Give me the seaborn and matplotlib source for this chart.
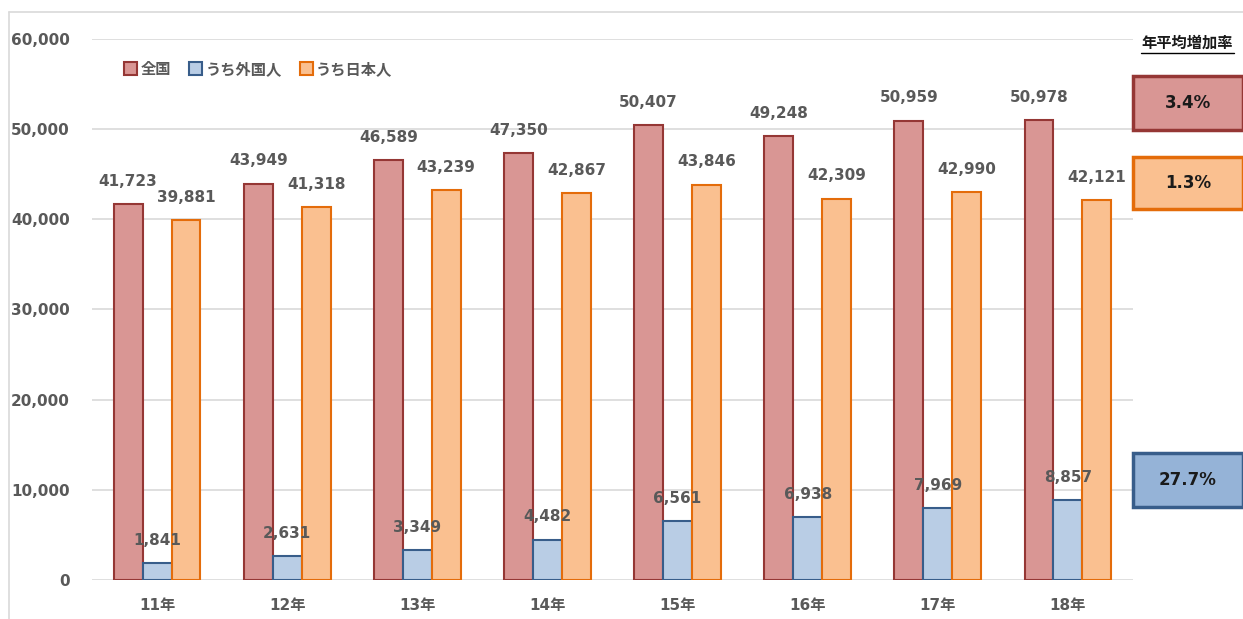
import matplotlib
matplotlib.use("Agg")
import matplotlib.pyplot as plt
import seaborn as sns
import pandas as pd
from matplotlib.patches import Rectangle
from matplotlib.lines import Line2D

years = ["11年", "12年", "13年", "14年", "15年", "16年", "17年", "18年"]
series = ["全国", "うち外国人", "うち日本人"]
zenkoku = [41723, 43949, 46589, 47350, 50407, 49248, 50959, 50978]
gaikokujin = [1841, 2631, 3349, 4482, 6561, 6938, 7969, 8857]
nihonjin = [39881, 41318, 43239, 42867, 43846, 42309, 42990, 42121]
rate_title = "年平均増加率"
rates = ["3.4%", "1.3%", "27.7%"]

fills = ["#d99694", "#b9cde5", "#fac090"]
edges = ["#953735", "#385d8a", "#e46c0a"]
box_fills = ["#d99694", "#fac090", "#95b3d7"]
box_edges = ["#953735", "#e46c0a", "#385d8a"]
gray = "#595959"

sns.set_theme(style="white")
plt.rcParams["font.family"] = ["DejaVu Sans", "Noto Sans CJK JP"]

df = pd.DataFrame({
    "year": years * 3,
    "series": [series[0]] * 8 + [series[1]] * 8 + [series[2]] * 8,
    "value": zenkoku + gaikokujin + nihonjin,
})

W, H = 1243, 619
fig = plt.figure(figsize=(W / 100, H / 100), dpi=100)
ax = fig.add_axes([92 / W, 1 - 580 / H, (1133 - 92) / W, (580 - 39) / H])

sns.barplot(data=df, x="year", y="value", hue="series", hue_order=series,
            order=years, palette=fills, width=0.667, saturation=1, ax=ax,
            legend=True, errorbar=None)

for i, cont in enumerate(ax.containers):
    for p in cont.patches:
        p.set_edgecolor(edges[i])
        p.set_linewidth(1.5)
    ax.bar_label(cont, labels=[f"{int(v):,}" for v in cont.datavalues],
                 padding=11, fontsize=11, fontweight="bold", color=gray,
                 family="DejaVu Sans")

ax.set_ylim(0, 60000)
ax.set_xlim(-0.5, len(years) - 0.5)
ax.set_yticks(range(0, 60001, 10000))
ax.set_yticklabels([f"{v:,}" for v in range(0, 60001, 10000)])
ax.yaxis.grid(True, color="#d9d9d9", linewidth=1.2)
ax.set_axisbelow(True)
for s in ax.spines.values():
    s.set_visible(False)
ax.set_xlabel("")
ax.set_ylabel("")
ax.tick_params(axis="y", length=0, pad=15.8, labelsize=11, labelcolor=gray)
ax.tick_params(axis="x", length=0, pad=13, labelsize=11, labelcolor=gray)
for t in ax.get_yticklabels() + ax.get_xticklabels():
    t.set_fontweight("bold")
for t in ax.get_xticklabels():
    t.set_family(["DejaVu Sans", "Noto Sans CJK JP"])

handles, labels = ax.get_legend_handles_labels()
for h, fc, ec in zip(handles, fills, edges):
    h.set_facecolor(fc)
    h.set_edgecolor(ec)
    h.set_linewidth(1.5)
leg = ax.legend(handles, labels, loc="upper left", bbox_to_anchor=(0.018, 0.985),
                ncol=3, frameon=False, handlelength=0.85, handleheight=0.85,
                handletextpad=0.2, columnspacing=1.2,
                prop={"family": "Noto Sans CJK JP", "weight": "bold", "size": 11})
for t in leg.get_texts():
    t.set_color(gray)

# figure frame lines (left and top)
fig.add_artist(Line2D([9 / W, 9 / W], [0, 1 - 12 / H], color="#d9d9d9", lw=1.2))
fig.add_artist(Line2D([9 / W, 1], [1 - 12 / H, 1 - 12 / H], color="#d9d9d9", lw=1.2))

# rate title
fig.text(1187 / W, 1 - 43 / H, rate_title, ha="center", va="center",
         fontsize=11, fontweight="bold", color="#1a1a1a", family="Noto Sans CJK JP")
fig.add_artist(Line2D([1141 / W, 1234 / W], [1 - 53 / H, 1 - 53 / H], color="black", lw=1))

box_y = [(76, 130), (157, 209), (453, 507)]
for (y0, y1), fc, ec, txt in zip(box_y, box_fills, box_edges, rates):
    x0, x1 = 1133, 1243
    r = Rectangle((x0 / W, 1 - y1 / H), (x1 - x0) / W, (y1 - y0) / H,
                  transform=fig.transFigure, facecolor=fc, edgecolor=ec, lw=2.5)
    fig.add_artist(r)
    fig.text((x0 + x1) / 2 / W, 1 - (y0 + y1) / 2 / H, txt, ha="center", va="center",
             fontsize=12, fontweight="bold", color="#1a1a1a")

fig.savefig("out.png", dpi=100)
